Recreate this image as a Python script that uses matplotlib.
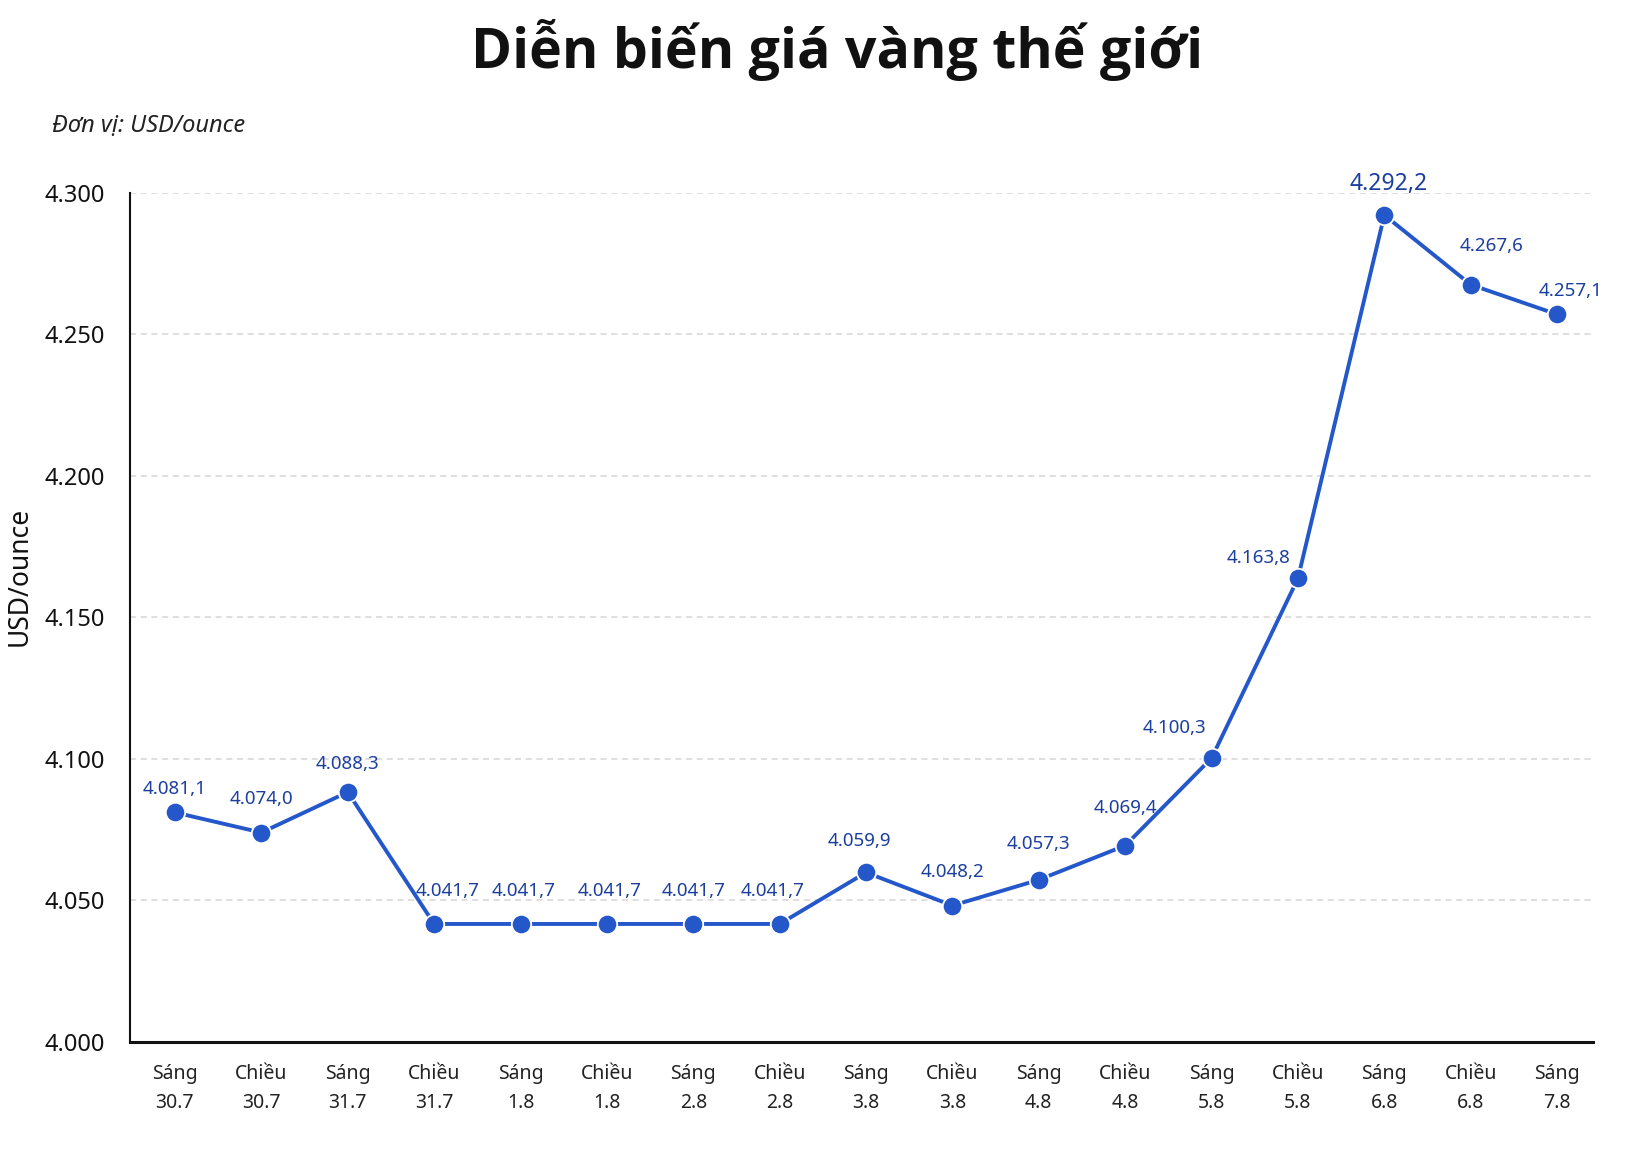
import matplotlib.pyplot as plt
from matplotlib.ticker import FuncFormatter, MultipleLocator

plt.rcParams['font.family'] = ['Noto Sans', 'DejaVu Sans']

# sessions (morning / afternoon) and dates
sessions = ['Sáng', 'Chiều', 'Sáng', 'Chiều', 'Sáng', 'Chiều', 'Sáng', 'Chiều', 'Sáng',
            'Chiều', 'Sáng', 'Chiều', 'Sáng', 'Chiều', 'Sáng', 'Chiều', 'Sáng']
dates = ['30.7', '30.7', '31.7', '31.7', '1.8', '1.8', '2.8', '2.8', '3.8',
         '3.8', '4.8', '4.8', '5.8', '5.8', '6.8', '6.8', '7.8']
prices = [4081.1, 4074.0, 4088.3, 4041.7, 4041.7, 4041.7, 4041.7, 4041.7, 4059.9,
          4048.2, 4057.3, 4069.4, 4100.3, 4163.8, 4292.2, 4267.6, 4257.1]

# label offsets in points (dx, dy) from each marker
label_offsets = [(0, 17), (0, 24), (0, 20), (10, 24), (2, 24), (2, 24), (0, 24), (-5, 24),
                 (-5, 23), (0, 24), (0, 26), (0, 27), (-27, 22), (-28, 15), (3, 22),
                 (15, 28), (10, 17)]

line_color = '#2457c9'
text_color = '#1c3f9e'


def vn_fmt(v, decimals=0):
    s = f'{v:,.{decimals}f}'
    return s.replace(',', 'X').replace('.', ',').replace('X', '.')


fig = plt.figure(figsize=(16.3, 11.52), dpi=100)
ax = fig.add_axes([0.0798, 0.0955, 0.8972, 0.737])

x = list(range(len(prices)))
ax.plot(x, prices, color=line_color, linewidth=2.8, marker='o', markersize=14,
        markerfacecolor=line_color, markeredgecolor='white', markeredgewidth=1.3,
        zorder=3)

for i, (xi, p) in enumerate(zip(x, prices)):
    dx, dy = label_offsets[i]
    big = p == max(prices)
    ax.annotate(vn_fmt(p, 1), (xi, p), xytext=(dx, dy), textcoords='offset points',
                ha='center', va='center', fontsize=16.5 if big else 13.5,
                color=text_color, annotation_clip=False, zorder=4)

ax.set_xlim(-0.52, 16.41)
ax.set_ylim(4000, 4300)
ax.yaxis.set_major_locator(MultipleLocator(50))
ax.yaxis.set_major_formatter(FuncFormatter(lambda v, pos: vn_fmt(v)))

ax.set_xticks(x)
ax.set_xticklabels([f'{s}\n{d}' for s, d in zip(sessions, dates)], linespacing=1.6)
ax.tick_params(axis='x', length=0, pad=16, labelsize=14, colors='#222222')
ax.tick_params(axis='y', length=0, pad=18, labelsize=17, colors='#111111')

for yv in range(4050, 4301, 50):
    ax.axhline(yv, color='#d6d6d6', linewidth=1.1, linestyle=(0, (4, 3)), zorder=1)

for side in ['top', 'right']:
    ax.spines[side].set_visible(False)
ax.spines['left'].set_linewidth(1.5)
ax.spines['bottom'].set_linewidth(2.2)
ax.spines['left'].set_color('#111111')
ax.spines['bottom'].set_color('#111111')

ax.set_ylabel('USD/ounce', fontsize=19, color='#111111')
ax.yaxis.set_label_coords(-0.066, 0.548)

fig.text(0.5135, 0.957, 'Diễn biến giá vàng thế giới', ha='center', va='center',
         fontsize=40, fontweight='bold', family=['Open Sans', 'DejaVu Sans'],
         color='#111111')
fig.text(0.032, 0.891, 'Đơn vị: USD/ounce', ha='left', va='center',
         fontsize=17, style='italic', color='#222222')

fig.savefig('out.png', dpi=100, facecolor='white')
